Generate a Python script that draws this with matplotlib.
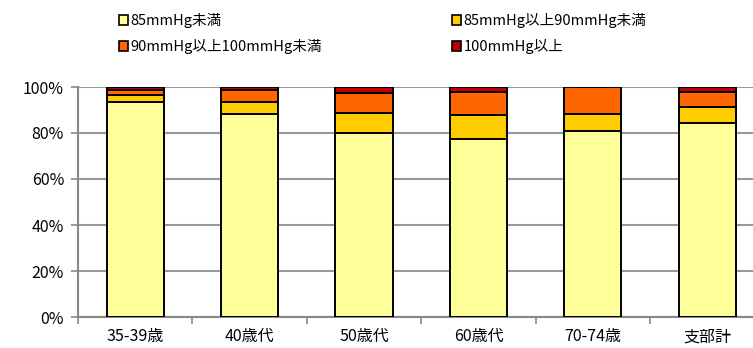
import numpy as np
import matplotlib
matplotlib.use("Agg")
import matplotlib.pyplot as plt
from matplotlib.patches import Patch

plt.rcParams['font.family'] = ['Noto Sans CJK JP', 'DejaVu Sans']

# data (percent of each age group)
categories = ["35-39歳", "40歳代", "50歳代", "60歳代", "70-74歳", "支部計"]
under85 = [93.4, 88.1, 80.1, 77.5, 80.9, 84.5]
from85to90 = [3.2, 5.5, 8.7, 10.5, 7.5, 6.7]
from90to100 = [2.3, 5.1, 8.7, 9.7, 11.6, 6.8]
over100 = [1.1, 1.3, 2.5, 2.3, 0.0, 2.0]

labels = ["85mmHg未満", "85mmHg以上90mmHg未満", "90mmHg以上100mmHg未満", "100mmHg以上"]
colors = ["#FFFF99", "#FFCC00", "#FF6600", "#C00000"]
series = [under85, from85to90, from90to100, over100]

fig = plt.figure(figsize=(7.53, 3.48), dpi=100)
ax = fig.add_axes([78 / 753, 1 - 317 / 348, (764.5 - 78) / 753, 230 / 348])

x = np.arange(len(categories))
bottom = np.zeros(len(categories))
for vals, col in zip(series, colors):
    vals = np.array(vals)
    ax.bar(x, vals, 0.5, bottom=bottom, color=col, edgecolor="black", linewidth=1.4, zorder=3)
    bottom += vals

ax.set_xlim(-0.5, len(categories) - 0.5)
ax.set_ylim(0, 100)
ax.set_yticks(np.arange(0, 101, 20))
ax.set_yticklabels([f"{v}%" for v in range(0, 101, 20)], fontsize=11.5)
ax.set_xticks(x)
ax.set_xticklabels(categories, fontsize=11.5)
ax.set_xticks(np.arange(-0.5, len(categories)), minor=True)
ax.tick_params(axis="x", which="major", length=0, pad=8)
ax.tick_params(axis="x", which="minor", length=5, color="#888888", width=1.2)
ax.tick_params(axis="y", length=5, color="#888888", width=1.2, pad=5)
ax.grid(axis="y", color="#999999", linewidth=1.5, zorder=0)
for s in ["top", "right"]:
    ax.spines[s].set_visible(False)
for s in ["left", "bottom"]:
    ax.spines[s].set_color("#888888")
    ax.spines[s].set_linewidth(1.5)

handles = [Patch(facecolor=c, edgecolor="black", linewidth=1.2) for c in colors]
order = [0, 2, 1, 3]
fig.legend([handles[i] for i in order], [labels[i] for i in order],
           ncol=2, loc="upper left", bbox_to_anchor=(106 / 753, 1.0),
           frameon=False, fontsize=10.5, handlelength=0.6, handleheight=0.6,
           handletextpad=0.2, columnspacing=8.9, labelspacing=0.75)

fig.savefig("out.png", dpi=100)
